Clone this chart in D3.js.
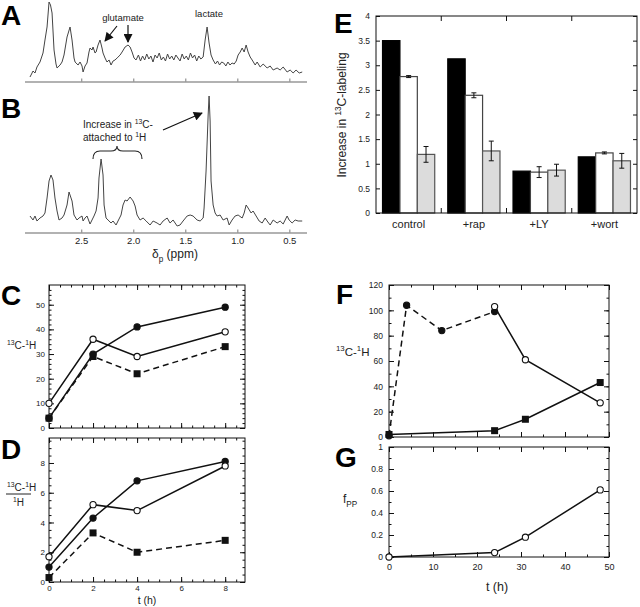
<!DOCTYPE html>
<html>
<head>
<meta charset="utf-8">
<script src="https://cdn.jsdelivr.net/npm/d3@7"></script>
<style>
body { margin: 0; background: #fff; }
svg { display: block; font-family: "Liberation Sans", Arial, Helvetica, sans-serif; }
</style>
</head>
<body>
<div id="fig"></div>
<script>
// spectra: [ppm, intensity (arbitrary units)]
var ppmTicks = [2.5, 2.0, 1.5, 1.0, 0.5];
var spectrumA = [
    [2.992,5],[2.977,8],[2.963,11],[2.944,9],[2.925,15],[2.896,20],[2.867,29],[2.848,42],[2.828,55],[2.809,80],
    [2.795,77],[2.780,69],[2.761,32],[2.742,18],[2.732,14],[2.703,17],[2.684,20],[2.665,27],[2.636,45],[2.607,55],
    [2.588,42],[2.569,24],[2.559,20],[2.530,17],[2.511,20],[2.492,16],[2.482,10],[2.463,16],[2.444,19],[2.425,30],
    [2.415,34],[2.396,32],[2.386,35],[2.367,29],[2.357,30],[2.338,37],[2.319,42],[2.300,34],[2.290,29],[2.271,24],
    [2.252,20],[2.232,22],[2.213,17],[2.194,21],[2.175,22],[2.155,24],[2.126,27],[2.107,30],[2.078,35],[2.050,37],
    [2.030,35],[2.011,30],[1.992,24],[1.973,22],
    [1.95,27],[1.93,21],[1.91,26],[1.89,22],[1.87,28],[1.85,23],[1.83,26],[1.81,20],[1.79,27],[1.77,24],
    [1.75,29],[1.73,22],[1.71,25],[1.69,21],[1.67,28],[1.65,23],[1.63,26],[1.61,22],[1.59,27],[1.57,24],
    [1.55,21],[1.53,28],[1.51,23],[1.49,26],[1.47,22],[1.45,29],[1.43,24],[1.41,27],[1.39,21],[1.37,26],[1.35,23],
    [1.328,25],[1.309,42],[1.290,55],[1.271,39],[1.252,27],[1.232,22],[1.21,18],[1.19,21],[1.17,17],[1.15,20],
    [1.13,19],[1.11,16],[1.09,20],[1.07,17],[1.05,19],[1.03,18],[1.01,21],[0.992,27],[0.972,30],[0.953,34],
    [0.934,30],[0.915,37],[0.896,30],[0.876,25],[0.857,22],[0.828,17],[0.809,20],[0.780,15],[0.751,18],[0.713,14],
    [0.684,16],[0.655,12],[0.617,14],[0.588,12],[0.559,15],[0.521,10],[0.492,12],[0.463,9],[0.435,12],[0.405,9],[0.376,10]
];
var spectrumB = [
    [2.992,17],[2.963,13],[2.944,17],[2.925,12],[2.896,15],[2.867,17],[2.848,20],[2.828,35],[2.809,52],[2.790,58],
    [2.771,53],[2.752,35],[2.732,22],[2.713,13],[2.684,15],[2.665,18],[2.636,28],[2.617,41],[2.588,32],[2.569,18],
    [2.540,13],[2.521,15],[2.492,17],[2.482,12],[2.463,15],[2.444,17],[2.415,9],[2.396,13],[2.377,17],[2.357,22],
    [2.338,35],[2.329,55],[2.309,74],[2.290,58],[2.280,28],[2.261,15],[2.242,13],[2.213,10],[2.194,12],[2.165,8],
    [2.146,12],[2.117,18],[2.098,28],[2.078,33],[2.059,32],[2.030,36],[2.001,32],[1.982,27],[1.963,18],[1.934,13],
    [1.905,15],[1.876,12],[1.838,8],[1.809,12],[1.771,10],[1.742,8],[1.713,12],[1.674,15],[1.646,10],[1.617,13],
    [1.578,7],[1.550,8],[1.521,12],[1.482,17],[1.453,18],[1.425,17],[1.386,13],[1.357,12],[1.328,15],[1.319,25],
    [1.300,62],[1.280,118],[1.271,137],[1.261,112],[1.252,52],[1.232,28],[1.213,20],[1.194,17],[1.165,18],[1.136,13],
    [1.098,15],[1.078,8],[1.050,13],[1.021,17],[0.992,18],[0.953,15],[0.934,20],[0.915,28],[0.896,25],[0.867,20],
    [0.848,22],[0.819,17],[0.790,12],[0.761,10],[0.732,15],[0.713,12],[0.684,8],[0.655,13],[0.617,10],[0.588,12],
    [0.559,9],[0.521,17],[0.502,13],[0.473,10],[0.444,13],[0.415,12],[0.376,12]
];

// panels C and D
var hoursCD = [0, 2, 4, 8];
var cFilled = [4, 30, 41, 49];
var cOpen = [10, 36, 29, 39];
var cSquare = [4, 29, 22, 33];
var dFilled = [1.0, 4.3, 6.8, 8.1];
var dOpen = [1.7, 5.2, 4.8, 7.8];
var dSquare = [0.3, 3.3, 2.0, 2.8];
var cdHourTicks = [0, 2, 4, 6, 8];
var cTicks = [0, 10, 20, 30, 40, 50];
var dTicks = [0, 2, 4, 6, 8];

// panel E
var categories = ["control", "+rap", "+LY", "+wort"];
var eBlack = [3.5, 3.13, 0.85, 1.14];
var eWhite = [2.77, 2.39, 0.83, 1.22];
var eWhiteErr = [0.02, 0.05, 0.11, 0.02];
var eGray = [1.19, 1.26, 0.87, 1.06];
var eGrayErr = [0.16, 0.2, 0.12, 0.15];
var eTicks = [0, 0.5, 1, 1.5, 2, 2.5, 3, 3.5, 4];

// panels F and G
var fFilledT = [0, 4, 12, 24];
var fFilled = [1, 104, 84, 99];
var fOpenT = [24, 31, 48];
var fOpen = [103, 61, 27];
var fSquareT = [0, 24, 31, 48];
var fSquare = [2, 5, 14, 43];
var gT = [0, 24, 31, 48];
var gVal = [0, 0.04, 0.18, 0.61];
var fgHourTicks = [0, 10, 20, 30, 40, 50];
var fTicks = [0, 20, 40, 60, 80, 100, 120];
var gTicks = [0, 0.2, 0.4, 0.6, 0.8, 1];

var svg = d3.select("#fig")
    .append("svg")
        .attr("width", 640)
        .attr("height", 607)

var defs = svg.append("defs")
defs.append("marker")
        .attr("id", "head")
        .attr("viewBox", "0 0 10 10")
        .attr("refX", 9)
        .attr("refY", 5)
        .attr("markerUnits", "userSpaceOnUse")
        .attr("markerWidth", 10)
        .attr("markerHeight", 9)
        .attr("orient", "auto")
    .append("path")
        .attr("d", "M0,0L10,5L0,10z")
        .attr("fill", "#111")

function panelLetter(txt, x, y) {
    svg.append("text")
        .attr("x", x)
        .attr("y", y)
        .attr("font-size", 28)
        .attr("font-weight", "bold")
        .text(txt)
}

// text made of parts, some raised (sup) or lowered (sub)
function richText(g, parts, x, y, size, anchor) {
    var t = g.append("text")
        .attr("x", x)
        .attr("y", y)
        .attr("font-size", size)
        .attr("fill", "#222")
        .attr("text-anchor", anchor || "start")
    var shift = 0
    parts.forEach(function(p) {
        var s = p.sup ? -0.42 * size : p.sub ? 0.3 * size : 0
        t.append("tspan")
            .attr("dy", s - shift)
            .attr("font-size", (p.sup || p.sub) ? size * 0.68 : size)
            .text(p.t)
        shift = s
    })
    return t
}

function arrow(x1, y1, x2, y2) {
    svg.append("line")
        .attr("x1", x1).attr("y1", y1)
        .attr("x2", x2).attr("y2", y2)
        .attr("stroke", "#111")
        .attr("stroke-width", 1.2)
        .attr("marker-end", "url(#head)")
}

function inwardAxis(g, axisFn, scale, values, size, translate, labelFn, fontSize, pad) {
    var a = g.append("g")
        .attr("transform", translate)
        .call(axisFn(scale)
            .tickValues(values)
            .tickSize(-size)
            .tickPadding(pad || 3)
            .tickFormat(labelFn || function() { return "" }))
    a.attr("font-family", null).attr("font-size", fontSize || 8)
    a.select(".domain").remove()
    a.selectAll("line").attr("stroke", "#111")
    a.selectAll("text").attr("fill", "#222")
    return a
}

function boxAxes(x, y, cfg) {
    var g = svg.append("g")
    var l = x.range()[0], r = x.range()[1]
    var b = y.range()[0], t = y.range()[1]
    var fmt = d3.format("~g")
    inwardAxis(g, d3.axisBottom, x, cfg.xMajor, 5, "translate(0," + b + ")", cfg.xLabels ? fmt : null, cfg.xFont, cfg.xPad)
    inwardAxis(g, d3.axisBottom, x, cfg.xMinor, 2.5, "translate(0," + b + ")")
    inwardAxis(g, d3.axisTop, x, cfg.xMajor, 5, "translate(0," + t + ")")
    inwardAxis(g, d3.axisTop, x, cfg.xMinor, 2.5, "translate(0," + t + ")")
    inwardAxis(g, d3.axisLeft, y, cfg.yMajor, 5, "translate(" + l + ",0)", fmt, cfg.yFont, cfg.yPad)
    inwardAxis(g, d3.axisLeft, y, cfg.yMinor, 2.5, "translate(" + l + ",0)")
    inwardAxis(g, d3.axisRight, y, cfg.yMajor, 5, "translate(" + r + ",0)")
    inwardAxis(g, d3.axisRight, y, cfg.yMinor, 2.5, "translate(" + r + ",0)")
    g.append("rect")
        .attr("x", l)
        .attr("y", t)
        .attr("width", r - l)
        .attr("height", b - t)
        .attr("fill", "none")
        .attr("stroke", "#111")
        .attr("stroke-width", 1)
    return g
}

function series(g, x, y, xs, ys, marker, dashed) {
    var pts = xs.map(function(v, i) { return [v, ys[i]] })
    g.append("path")
        .datum(pts)
        .attr("d", d3.line().x(function(d) { return x(d[0]) }).y(function(d) { return y(d[1]) }))
        .attr("fill", "none")
        .attr("stroke", "#111")
        .attr("stroke-width", 1.5)
        .attr("stroke-dasharray", dashed ? "6,4" : null)
    return { g: g, pts: pts, x: x, y: y, marker: marker }
}

function markers(s) {
    if (s.marker == "square") {
        s.g.selectAll(null).data(s.pts).enter()
            .append("rect")
                .attr("x", function(d) { return s.x(d[0]) - 3.5 })
                .attr("y", function(d) { return s.y(d[1]) - 3.5 })
                .attr("width", 7)
                .attr("height", 7)
                .attr("fill", "#111")
    } else {
        s.g.selectAll(null).data(s.pts).enter()
            .append("circle")
                .attr("cx", function(d) { return s.x(d[0]) })
                .attr("cy", function(d) { return s.y(d[1]) })
                .attr("r", 3.1)
                .attr("fill", s.marker == "open" ? "#fff" : "#111")
                .attr("stroke", "#111")
                .attr("stroke-width", 1.1)
    }
}

// ---------- A and B: spectra ----------
var xPpm = d3.scaleLinear().domain([3.04, 0.33]).range([25, 307])
var yA = d3.scaleLinear().domain([0, 80]).range([82, 2])
var yB = d3.scaleLinear().domain([0, 137]).range([233, 96])

function spectrum(data, y, axisY, labels) {
    var g = svg.append("g")
    g.append("line")
        .attr("x1", 25).attr("x2", 307)
        .attr("y1", axisY).attr("y2", axisY)
        .attr("stroke", "#999")
        .attr("stroke-width", 1.3)
    var ax = g.append("g")
        .attr("transform", "translate(0," + axisY + ")")
        .call(d3.axisBottom(xPpm)
            .tickValues(ppmTicks)
            .tickSize(-3.5)
            .tickPadding(4)
            .tickFormat(labels ? d3.format(".1f") : function() { return "" }))
    ax.attr("font-family", null).attr("font-size", 9.5)
    ax.select(".domain").remove()
    ax.selectAll("line").attr("stroke", "#999").attr("stroke-width", 1.3)
    ax.selectAll("text").attr("fill", "#222")
    g.append("path")
        .datum(data)
        .attr("d", d3.line().x(function(d) { return xPpm(d[0]) }).y(function(d) { return y(d[1]) }))
        .attr("fill", "none")
        .attr("stroke", "#444")
        .attr("stroke-width", 1)
}

spectrum(spectrumA, yA, 82, false)
spectrum(spectrumB, yB, 233, true)

panelLetter("A", 1, 25)
panelLetter("B", 1, 118)

svg.append("text").attr("x", 123).attr("y", 21).attr("font-size", 9.5)
    .attr("text-anchor", "middle").attr("fill", "#222").text("glutamate")
svg.append("text").attr("x", 209).attr("y", 17).attr("font-size", 9.5)
    .attr("text-anchor", "middle").attr("fill", "#222").text("lactate")
arrow(117, 26, 105, 41)
arrow(128, 25, 128, 42)

richText(svg, [{ t: "Increase in " }, { t: "13", sup: true }, { t: "C-" }], 83, 128, 10)
richText(svg, [{ t: "attached to " }, { t: "1", sup: true }, { t: "H" }], 83, 141, 10)
svg.append("path")
    .attr("d", "M93,159 Q93,151 100,151 L111,151 Q117,151 117,146 Q117,151 123,151 L135,151 Q142,151 142,159")
    .attr("fill", "none")
    .attr("stroke", "#222")
    .attr("stroke-width", 1.1)
arrow(163, 130, 202, 113)

richText(svg, [{ t: "δ" }, { t: "p", sub: true }, { t: " (ppm)" }], 175, 258, 12, "middle")

// ---------- C ----------
var xC = d3.scaleLinear().domain([0, 8.9]).range([49, 245])
var yC = d3.scaleLinear().domain([0, 58]).range([428, 285])
var gC = boxAxes(xC, yC, {
    xMajor: cdHourTicks, xMinor: d3.range(0, 9, 0.5), xLabels: false,
    yMajor: cTicks, yMinor: d3.range(0, 58, 2), yFont: 8, yPad: 4
})
var cs = [
    series(gC, xC, yC, hoursCD, cSquare, "square", true),
    series(gC, xC, yC, hoursCD, cFilled, "filled", false),
    series(gC, xC, yC, hoursCD, cOpen, "open", false)
]
cs.forEach(markers)
panelLetter("C", 1, 305)
richText(svg, [{ t: "13", sup: true }, { t: "C-" }, { t: "1", sup: true }, { t: "H" }], 7, 349, 10)

// ---------- D ----------
var xD = d3.scaleLinear().domain([0, 8.9]).range([49, 245])
var yD = d3.scaleLinear().domain([0, 9.68]).range([582, 438])
var gD = boxAxes(xD, yD, {
    xMajor: cdHourTicks, xMinor: d3.range(0, 9, 0.5), xLabels: true, xFont: 8, xPad: 3,
    yMajor: dTicks, yMinor: d3.range(0, 9.6, 0.5), yFont: 8, yPad: 4
})
var ds = [
    series(gD, xD, yD, hoursCD, dSquare, "square", true),
    series(gD, xD, yD, hoursCD, dFilled, "filled", false),
    series(gD, xD, yD, hoursCD, dOpen, "open", false)
]
ds.forEach(markers)
panelLetter("D", 1, 459)
richText(svg, [{ t: "13", sup: true }, { t: "C-" }, { t: "1", sup: true }, { t: "H" }], 7, 491, 10)
svg.append("line").attr("x1", 6).attr("x2", 31).attr("y1", 494).attr("y2", 494)
    .attr("stroke", "#222").attr("stroke-width", 1)
richText(svg, [{ t: "1", sup: true }, { t: "H" }], 13, 506, 10)
svg.append("text").attr("x", 147).attr("y", 604).attr("font-size", 10.5)
    .attr("text-anchor", "middle").attr("fill", "#222").text("t (h)")

// ---------- E ----------
var xE = d3.scaleBand().domain(categories).range([376, 637]).paddingInner(0.2).paddingOuter(0.1)
var xSub = d3.scaleBand().domain(["black", "white", "gray"]).range([0, xE.bandwidth()])
var yE = d3.scaleLinear().domain([0, 4]).range([213, 16])
var gE = svg.append("g")

var eSeries = [
    { key: "black", vals: eBlack, err: null, fill: "#000", stroke: "#000" },
    { key: "white", vals: eWhite, err: eWhiteErr, fill: "#fff", stroke: "#444" },
    { key: "gray", vals: eGray, err: eGrayErr, fill: "#dcdcdc", stroke: "#555" }
]
eSeries.forEach(function(s) {
    var rows = categories.map(function(c, i) { return { c: c, v: s.vals[i], e: s.err ? s.err[i] : 0 } })
    gE.selectAll(null).data(rows).enter()
        .append("rect")
            .attr("x", function(d) { return xE(d.c) + xSub(s.key) })
            .attr("y", function(d) { return yE(d.v) })
            .attr("width", xSub.bandwidth())
            .attr("height", function(d) { return yE(0) - yE(d.v) })
            .attr("fill", s.fill)
            .attr("stroke", s.stroke)
            .attr("stroke-width", 1.2)
    if (s.err) {
        var eb = gE.selectAll(null).data(rows).enter().append("g")
            .attr("transform", function(d) { return "translate(" + (xE(d.c) + xSub(s.key) + xSub.bandwidth() / 2) + ",0)" })
        eb.append("line")
            .attr("y1", function(d) { return yE(d.v - d.e) })
            .attr("y2", function(d) { return yE(d.v + d.e) })
            .attr("stroke", "#111")
        eb.append("line").attr("x1", -2.5).attr("x2", 2.5)
            .attr("y1", function(d) { return yE(d.v - d.e) })
            .attr("y2", function(d) { return yE(d.v - d.e) })
            .attr("stroke", "#111")
        eb.append("line").attr("x1", -2.5).attr("x2", 2.5)
            .attr("y1", function(d) { return yE(d.v + d.e) })
            .attr("y2", function(d) { return yE(d.v + d.e) })
            .attr("stroke", "#111")
    }
})

inwardAxis(gE, d3.axisLeft, yE, eTicks, 4, "translate(376,0)", d3.format("~g"), 8.5, 6)
inwardAxis(gE, d3.axisRight, yE, eTicks, 4, "translate(637,0)")
// ticks between groups, top and bottom
var gaps = categories.slice(1).map(function(c) { return xE(c) - xE.step() * xE.paddingInner() / 2 })
gE.selectAll(null).data(gaps).enter().append("line")
    .attr("x1", function(d) { return d }).attr("x2", function(d) { return d })
    .attr("y1", 213).attr("y2", 208).attr("stroke", "#111")
gE.selectAll(null).data(gaps).enter().append("line")
    .attr("x1", function(d) { return d }).attr("x2", function(d) { return d })
    .attr("y1", 16).attr("y2", 21).attr("stroke", "#111")
gE.append("rect")
    .attr("x", 376).attr("y", 16)
    .attr("width", 261).attr("height", 197)
    .attr("fill", "none").attr("stroke", "#111")
gE.selectAll(null).data(categories).enter().append("text")
    .attr("x", function(d) { return xE(d) + xE.bandwidth() / 2 })
    .attr("y", 228)
    .attr("font-size", 11)
    .attr("text-anchor", "middle")
    .attr("fill", "#222")
    .text(function(d) { return d })
richText(gE, [{ t: "Increase in " }, { t: "13", sup: true }, { t: "C-labeling" }], 0, 0, 12, "middle")
    .attr("transform", "translate(346,115) rotate(-90)")
panelLetter("E", 334, 33)

// ---------- F ----------
var xF = d3.scaleLinear().domain([0, 50]).range([389, 609])
var yF = d3.scaleLinear().domain([0, 120]).range([437, 285])
var gF = boxAxes(xF, yF, {
    xMajor: fgHourTicks, xMinor: d3.range(0, 51, 5), xLabels: false,
    yMajor: fTicks, yMinor: d3.range(0, 121, 10), yFont: 8.5, yPad: 6
})
var fs = [
    series(gF, xF, yF, fFilledT, fFilled, "filled", true),
    series(gF, xF, yF, fOpenT, fOpen, "open", false),
    series(gF, xF, yF, fSquareT, fSquare, "square", false)
]
markers(fs[2])
markers(fs[0])
markers(fs[1])
panelLetter("F", 336, 304)
richText(svg, [{ t: "13", sup: true }, { t: "C-" }, { t: "1", sup: true }, { t: "H" }], 336, 356, 11.5)

// ---------- G ----------
var xG = d3.scaleLinear().domain([0, 50]).range([389, 609])
var yG = d3.scaleLinear().domain([0, 1]).range([557, 447])
var gG = boxAxes(xG, yG, {
    xMajor: fgHourTicks, xMinor: d3.range(0, 51, 5), xLabels: true, xFont: 9, xPad: 7,
    yMajor: gTicks, yMinor: d3.range(0, 1.01, 0.1), yFont: 8.5, yPad: 6
})
markers(series(gG, xG, yG, gT, gVal, "open", false))
panelLetter("G", 335, 467)
richText(svg, [{ t: "f" }, { t: "PP", sub: true }], 343, 503, 12)
svg.append("text").attr("x", 497).attr("y", 591).attr("font-size", 12.5)
    .attr("text-anchor", "middle").attr("fill", "#222").text("t (h)")
</script>
</body>
</html>
